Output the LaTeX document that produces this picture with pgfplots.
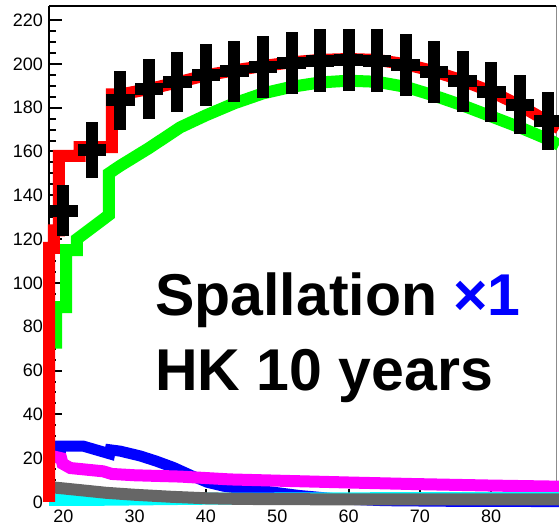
\documentclass[border=0pt]{standalone}
\usepackage{pgfplots}
\pgfplotsset{compat=1.18}
\usepackage{fontspec}
\setmainfont{Liberation Sans}
\definecolor{rootred}{RGB}{255,0,0}
\definecolor{rootgreen}{RGB}{0,255,0}
\definecolor{rootblue}{RGB}{0,0,255}
\definecolor{rootmag}{RGB}{255,0,255}
\definecolor{rootgray}{RGB}{102,102,102}
\definecolor{rootcyan}{RGB}{0,255,255}

\begin{document}
\begin{tikzpicture}
\begin{axis}[
  at={(0,0)}, anchor=south west,
  scale only axis, width=507pt, height=496pt,
  xmin=18, xmax=89.08, ymin=0, ymax=226.4,
  axis lines=left,
  axis line style={-, line width=2.5pt, black},
  clip=false,
  xtick={20,30,...,80}, ytick={0,20,...,220},
  minor y tick num=3,
  tick align=inside,
  major tick length=13pt, minor tick length=6.5pt,
  every tick/.style={black, line width=2pt},
  tick label style={font=\fontsize{18}{20}\selectfont},
  /pgf/number format/assume math mode=true,
  yticklabel style={inner sep=0pt, xshift=-6pt},
  xticklabel style={inner sep=0pt, yshift=-8pt},
  line join=miter,
]
\draw[black, line width=2.5pt] (rel axis cs:0,1) -- (rel axis cs:1,1);
\draw[black!45, line width=1pt] (rel axis cs:1,0) -- (rel axis cs:1,1);

% blue
\addplot[rootblue, line width=11pt] coordinates {
(18.6,21) (19.6,21) (19.6,25.5) (22.8,25.5) (26.5,22) (26.6,23.8) (28,23.2)
(30.8,21) (33,18.7) (35.5,15.7) (38,12) (40.2,9) (42.5,7.2) (44.8,6.2)
(49.4,4.5) (53,3) (58,1.5) (65,0.6) (75,0.3) (89.5,0.2)};
% magenta
\addplot[rootmag, line width=12pt] coordinates {
(18.3,21) (19.7,20) (19.9,17.5) (21,15.5) (25.6,14) (26.8,12.8) (30,12.2)
(36.4,11.6) (43.4,10.3) (50.4,9.7) (60,8.9) (69,8.2) (80,7.5) (89.5,7)};
% cyan
\addplot[rootcyan, line width=12pt] coordinates {
(18,1.0) (25,1.0) (40,1.5) (60,1.7) (89.5,1.8)};
% gray
\addplot[rootgray, line width=12pt] coordinates {
(18,6.8) (20,6.2) (23,5.2) (26,4.2) (30,3.3) (35,2.4) (40,1.7) (45,1.4)
(50,1.3) (60,1.2) (89.5,1.2)};
% green
\addplot[rootgreen, line width=12pt] coordinates {
(19.0,70) (19.0,89) (20.4,89) (20.4,115) (21.9,115) (21.9,120) (26.4,131)
(26.4,150) (28,153.5) (30,157.5) (32,161.5) (36.4,171) (40,176.5) (44,182)
(48,186.5) (52,189.5) (56,191.5) (60,192.3) (64,191.8) (68,189.5) (72,185.5)
(76,181) (80,176) (84,171) (88,165.5) (89.5,163)};
% red
\addplot[rootred, line width=12pt] coordinates {
(18,0) (18,116) (18.7,116) (18.7,124) (19.4,124) (19.4,158) (22.3,158)
(22.3,162) (26.8,162) (26.8,186) (28,186) (32,188.5) (36,191.5) (40,194.8)
(44,197) (48,199) (52,200.7) (56,201.8) (60,202.2) (64,201.8) (68,199.8)
(72,196.6) (76,192.3) (80,187.3) (84,181) (88,173.5) (89.5,170.5)};
% data
\addplot[black, only marks, mark=none,
  error bars/.cd, x dir=both, x explicit, y dir=both, y explicit,
  error mark=none, error bar style={line width=12pt, black}]
table[x=x, y=y, x error=ex, y error=ey] {
x y ex ey
20 133.0 2 11.5
24 160.7 2 12.7
28 183.3 2 13.5
32 188.5 2 13.7
36 191.8 2 13.8
40 194.9 2 14.0
44 196.6 2 14.0
48 198.5 2 14.1
52 200.5 2 14.2
56 201.5 2 14.2
60 201.6 2 14.2
64 201.5 2 14.2
68 199.3 2 14.1
72 196.2 2 14.0
76 192.0 2 13.9
80 187.1 2 13.7
84 181.3 2 13.5
88 174.0 2 13.2
};

\node[anchor=base west, inner sep=0pt, font=\fontsize{59}{70}\selectfont\bfseries]
  at (axis cs:32.86,85.3) {Spallation \textcolor{rootblue}{×1}};
\node[anchor=base west, inner sep=0pt, font=\fontsize{59}{70}\selectfont\bfseries]
  at (axis cs:32.86,51.1) {HK 10 years};
\end{axis}
\pgfresetboundingbox
\useasboundingbox (-49pt,-24pt) rectangle (510pt,502pt);
\end{tikzpicture}
\end{document}
